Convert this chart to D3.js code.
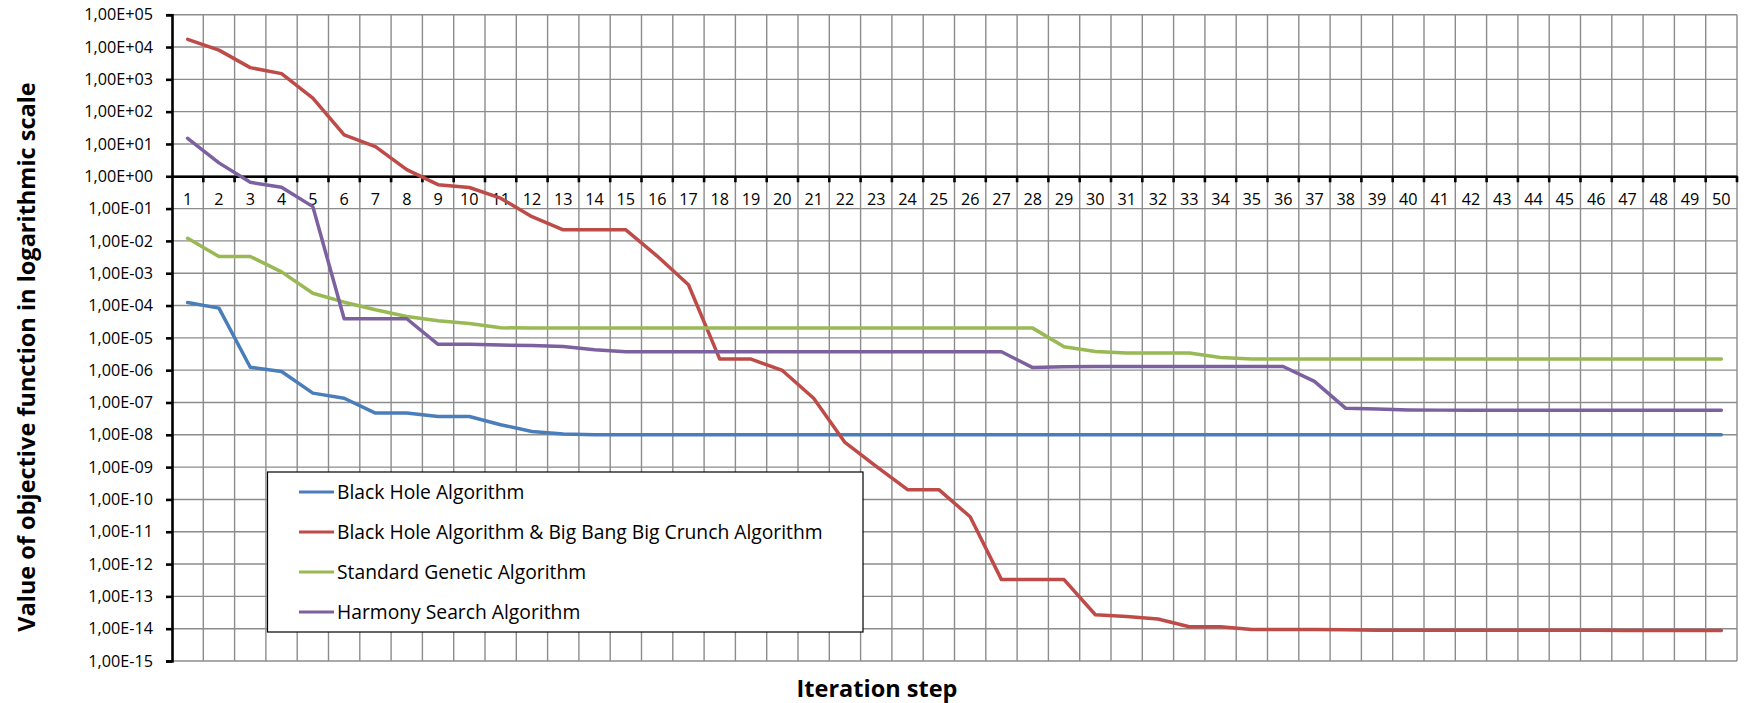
<!DOCTYPE html>
<html lang="en">
<head>
    <meta charset="UTF-8">
    <title>Convergence comparison</title>
    <script src="https://d3js.org/d3.v7.js"></script>
    <style>
        body { margin: 0; background: #fff; }
        text { font-family: "Open Sans", "Liberation Sans", sans-serif; fill: #000; }
    </style>
</head>
<body>
<svg></svg>
<script>
    {
        // iteration steps 1..50
        let steps = d3.range(1, 51);

        let seriesNames = [
            "Black Hole Algorithm",
            "Black Hole Algorithm & Big Bang Big Crunch Algorithm",
            "Standard Genetic Algorithm",
            "Harmony Search Algorithm"
        ];
        let seriesColors = ["#4A7EBB", "#BE4B48", "#98B954", "#7D60A0"];

        let blackHole = [
            1.24e-4, 8.3e-5, 1.23e-6, 9.1e-7, 1.95e-7, 1.35e-7, 4.7e-8, 4.7e-8, 3.7e-8, 3.7e-8,
            2.05e-8, 1.27e-8, 1.05e-8, 1.0e-8, 1.0e-8, 1.0e-8, 1.0e-8, 1.0e-8, 1.0e-8, 1.0e-8,
            1.0e-8, 1.0e-8, 1.0e-8, 1.0e-8, 1.0e-8, 1.0e-8, 1.0e-8, 1.0e-8, 1.0e-8, 1.0e-8,
            1.0e-8, 1.0e-8, 1.0e-8, 1.0e-8, 1.0e-8, 1.0e-8, 1.0e-8, 1.0e-8, 1.0e-8, 1.0e-8,
            1.0e-8, 1.0e-8, 1.0e-8, 1.0e-8, 1.0e-8, 1.0e-8, 1.0e-8, 1.0e-8, 1.0e-8, 1.0e-8
        ];
        let blackHoleBigBang = [
            1.73e4, 8.0e3, 2.3e3, 1.5e3, 2.6e2, 19, 8.3, 1.6, 0.55, 0.45,
            0.21, 0.056, 0.022, 0.022, 0.022, 3.4e-3, 4.4e-4, 2.2e-6, 2.2e-6, 9.8e-7,
            1.35e-7, 5.8e-9, 1.05e-9, 2.0e-10, 2.0e-10, 2.9e-11, 3.3e-13, 3.3e-13, 3.3e-13, 2.7e-14,
            2.4e-14, 2.0e-14, 1.15e-14, 1.15e-14, 9.5e-15, 9.5e-15, 9.4e-15, 9.3e-15, 9.0e-15, 9.0e-15,
            9.0e-15, 9.0e-15, 8.9e-15, 8.9e-15, 8.9e-15, 8.9e-15, 8.8e-15, 8.8e-15, 8.8e-15, 8.8e-15
        ];
        let geneticAlg = [
            1.2e-2, 3.3e-3, 3.3e-3, 1.1e-3, 2.4e-4, 1.27e-4, 7.4e-5, 4.6e-5, 3.4e-5, 2.8e-5,
            2.05e-5, 2.0e-5, 2.0e-5, 2.0e-5, 2.0e-5, 2.0e-5, 2.0e-5, 2.0e-5, 2.0e-5, 2.0e-5,
            2.0e-5, 2.0e-5, 2.0e-5, 2.0e-5, 2.0e-5, 2.0e-5, 2.0e-5, 2.0e-5, 5.3e-6, 3.8e-6,
            3.4e-6, 3.4e-6, 3.4e-6, 2.45e-6, 2.2e-6, 2.2e-6, 2.2e-6, 2.2e-6, 2.2e-6, 2.2e-6,
            2.2e-6, 2.2e-6, 2.2e-6, 2.2e-6, 2.2e-6, 2.2e-6, 2.2e-6, 2.2e-6, 2.2e-6, 2.2e-6
        ];
        let harmonySearch = [
            15, 2.6, 0.65, 0.46, 0.115, 3.9e-5, 3.9e-5, 3.9e-5, 6.3e-6, 6.3e-6,
            6.0e-6, 5.8e-6, 5.4e-6, 4.3e-6, 3.7e-6, 3.7e-6, 3.7e-6, 3.7e-6, 3.7e-6, 3.7e-6,
            3.7e-6, 3.7e-6, 3.7e-6, 3.7e-6, 3.7e-6, 3.7e-6, 3.7e-6, 1.2e-6, 1.28e-6, 1.3e-6,
            1.3e-6, 1.3e-6, 1.3e-6, 1.3e-6, 1.3e-6, 1.3e-6, 4.5e-7, 6.6e-8, 6.3e-8, 5.9e-8,
            5.8e-8, 5.8e-8, 5.8e-8, 5.8e-8, 5.8e-8, 5.8e-8, 5.8e-8, 5.8e-8, 5.8e-8, 5.8e-8
        ];
        let allSeries = [blackHole, blackHoleBigBang, geneticAlg, harmonySearch];

        // y tick values: one per decade
        let yTickValues = d3.range(5, -16, -1).map(e => Math.pow(10, e));

        let width = 1747;
        let height = 703;
        let margin = {left: 172, right: 10, top: 14.7, bottom: 42};

        let svg = d3.select("svg")
            .attr("width", width)
            .attr("height", height);

        let x = d3.scaleBand()
            .domain(steps)
            .range([margin.left, width - margin.right])
            .padding(0);

        let y = d3.scaleLog()
            .domain([1e-15, 1e5])
            .range([height - margin.bottom, margin.top]);

        // Excel style "1,00E+05"
        let fmt = function (v) {
            let e = Math.round(Math.log10(v));
            let sign = e < 0 ? "-" : "+";
            return "1,00E" + sign + String(Math.abs(e)).padStart(2, "0");
        };

        // grid
        let grid = svg.append("g").attr("stroke", "#8c8c8c").attr("stroke-width", 1.4);
        grid.selectAll("line.h")
            .data(yTickValues)
            .enter().append("line")
            .attr("x1", margin.left).attr("x2", width - margin.right)
            .attr("y1", d => y(d)).attr("y2", d => y(d));
        grid.selectAll("line.v")
            .data(steps)
            .enter().append("line")
            .attr("x1", d => x(d) + x.bandwidth()).attr("x2", d => x(d) + x.bandwidth())
            .attr("y1", y(1e5)).attr("y2", y(1e-15));

        // y axis
        let yAxis = svg.append("g")
            .attr("transform", "translate(" + margin.left + ",0)")
            .call(d3.axisLeft(y).tickValues(yTickValues).tickFormat(fmt).tickSize(6).tickPadding(13));
        yAxis.select(".domain").attr("stroke", "#000").attr("stroke-width", 2.6);
        yAxis.selectAll(".tick line").attr("stroke", "#000").attr("stroke-width", 2.6);
        yAxis.selectAll(".tick text")
            .style("font-size", "16.2px")
            .style("font-family", "'Open Sans', 'Liberation Sans', sans-serif")
            .attr("fill", "#000");

        // x axis crossing at 1
        let xAxis = svg.append("g")
            .attr("transform", "translate(0," + y(1) + ")")
            .call(d3.axisBottom(x).tickSize(0).tickPadding(17));
        xAxis.select(".domain").attr("stroke", "#000").attr("stroke-width", 2.6);
        xAxis.selectAll(".tick text")
            .style("font-size", "16.2px")
            .style("font-family", "'Open Sans', 'Liberation Sans', sans-serif")
            .attr("fill", "#000");
        xAxis.selectAll("line.boundary")
            .data(steps)
            .enter().append("line")
            .attr("x1", d => x(d) + x.bandwidth()).attr("x2", d => x(d) + x.bandwidth())
            .attr("y1", 0).attr("y2", 6)
            .attr("stroke", "#000").attr("stroke-width", 2.6);

        // series lines
        let line = d3.line()
            .x((d, i) => x(steps[i]) + x.bandwidth() / 2)
            .y(d => y(d));

        svg.selectAll("path.series")
            .data(allSeries)
            .enter().append("path")
            .attr("class", "series")
            .attr("d", line)
            .attr("fill", "none")
            .attr("stroke", (d, i) => seriesColors[i])
            .attr("stroke-width", 3.5)
            .attr("stroke-linejoin", "round")
            .attr("stroke-linecap", "round");

        // legend
        let legend = svg.append("g");
        legend.append("rect")
            .attr("x", 267.5).attr("y", 472).attr("width", 595.5).attr("height", 160)
            .attr("fill", "#fff").attr("stroke", "#000").attr("stroke-width", 1.2);
        let items = legend.selectAll("g.item")
            .data(seriesNames)
            .enter().append("g")
            .attr("transform", (d, i) => "translate(299," + (492 + i * 40) + ")");
        items.append("line")
            .attr("x1", 0).attr("x2", 35)
            .attr("stroke", (d, i) => seriesColors[i])
            .attr("stroke-width", 3.2);
        items.append("text")
            .attr("x", 38)
            .attr("dy", "0.36em")
            .style("font-size", "19.3px")
            .text(d => d);

        // axis titles
        svg.append("text")
            .attr("transform", "translate(35,357) rotate(-90)")
            .attr("text-anchor", "middle")
            .style("font-size", "23.5px")
            .style("font-weight", "bold")
            .text("Value of objective function in logarithmic scale");

        svg.append("text")
            .attr("x", 877)
            .attr("y", 697)
            .attr("text-anchor", "middle")
            .style("font-size", "23.5px")
            .style("font-weight", "bold")
            .text("Iteration step");
    }
</script>
</body>
</html>
